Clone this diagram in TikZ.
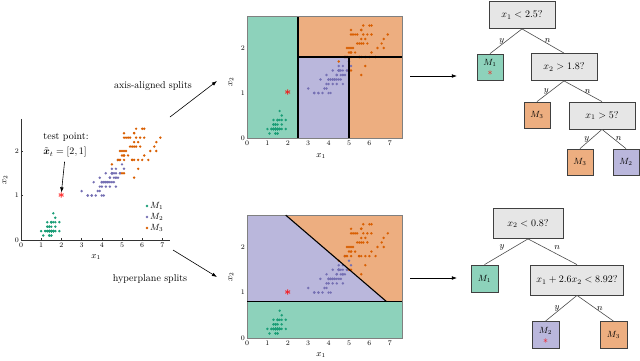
\documentclass[tikz,border=0pt]{standalone}
\usepackage{amsmath,amssymb}
\usepackage{tikz}
\usetikzlibrary{arrows.meta,positioning}

\definecolor{cgreen}{HTML}{1B9E77}
\definecolor{cpurple}{HTML}{7570B3}
\definecolor{corange}{HTML}{D95F02}
\definecolor{rgreen}{HTML}{8DD2BB}
\definecolor{rpurple}{HTML}{BAB7DC}
\definecolor{rorange}{HTML}{EDAE80}
\definecolor{testgray}{HTML}{E6E6E6}

% petal length / petal width of the three classes
\def\setosa{1.4/0.2,1.4/0.2,1.3/0.2,1.5/0.2,1.4/0.2,1.7/0.4,1.4/0.3,1.5/0.2,1.4/0.2,1.5/0.1,
1.5/0.2,1.6/0.2,1.4/0.1,1.1/0.1,1.2/0.2,1.5/0.4,1.3/0.4,1.4/0.3,1.7/0.3,1.5/0.3,
1.7/0.2,1.5/0.4,1.0/0.2,1.7/0.5,1.9/0.2,1.6/0.2,1.6/0.4,1.5/0.2,1.4/0.2,1.6/0.2,
1.6/0.2,1.5/0.4,1.5/0.1,1.4/0.2,1.5/0.2,1.2/0.2,1.3/0.2,1.4/0.1,1.3/0.2,1.5/0.2,
1.3/0.3,1.3/0.3,1.3/0.2,1.6/0.6,1.9/0.4,1.4/0.3,1.6/0.2,1.4/0.2,1.5/0.2,1.4/0.2}
\def\versicolor{4.7/1.4,4.5/1.5,4.9/1.5,4.0/1.3,4.6/1.5,4.5/1.3,4.7/1.6,3.3/1.0,4.6/1.3,3.9/1.4,
3.5/1.0,4.2/1.5,4.0/1.0,4.7/1.4,3.6/1.3,4.4/1.4,4.5/1.5,4.1/1.0,4.5/1.5,3.9/1.1,
4.8/1.8,4.0/1.3,4.9/1.5,4.7/1.2,4.3/1.3,4.4/1.4,4.8/1.4,5.0/1.7,4.5/1.5,3.5/1.0,
3.8/1.1,3.7/1.0,3.9/1.2,5.1/1.6,4.5/1.5,4.5/1.6,4.7/1.5,4.4/1.3,4.1/1.3,4.0/1.3,
4.4/1.2,4.6/1.4,4.0/1.2,3.3/1.0,4.2/1.3,4.2/1.2,4.2/1.3,4.3/1.3,3.0/1.1,4.1/1.3}
\def\virginica{6.0/2.5,5.1/1.9,5.9/2.1,5.6/1.8,5.8/2.2,6.6/2.1,4.5/1.7,6.3/1.8,5.8/1.8,6.1/2.5,
5.1/2.0,5.3/1.9,5.5/2.1,5.0/2.0,5.1/2.4,5.3/2.3,5.5/1.8,6.7/2.2,6.9/2.3,5.0/1.5,
5.7/2.3,4.9/2.0,6.7/2.0,4.9/1.8,5.7/2.1,6.0/1.8,4.8/1.8,4.9/1.8,5.6/2.1,5.8/1.6,
6.1/1.9,6.4/2.0,5.6/2.2,5.1/1.5,5.6/1.4,6.1/2.3,5.6/2.4,5.5/1.8,4.8/1.8,5.4/2.1,
5.6/2.4,5.1/2.3,5.1/1.9,5.9/2.3,5.7/2.5,5.2/2.3,5.0/1.9,5.2/2.0,5.4/2.3,5.1/1.8}

\newcommand{\irisdots}{%
  \foreach \a/\b in \setosa {\fill[cgreen] (\a,\b) circle (1.35pt);}
  \foreach \a/\b in \versicolor {\fill[cpurple] (\a,\b) circle (1.35pt);}
  \foreach \a/\b in \virginica {\fill[corange] (\a,\b) circle (1.35pt);}%
}

\begin{document}
\begin{tikzpicture}[x=1pt, y=-1pt, font=\small,
arr/.style={-{Latex[length=1.8mm,width=1.3mm]},semithick},
tick/.style={font=\fontsize{7}{8}\selectfont,inner sep=1pt},
testbox/.style={draw=black!75,fill=testgray,thick,minimum height=27pt,minimum width=66pt,inner xsep=6pt,font=\normalsize},
leaf/.style={draw=black!75,thick,minimum size=26pt,inner sep=1pt,align=center},
edge/.style={draw=black!70,semithick},
yn/.style={inner sep=1.5pt},
split/.style={line width=1.1pt},
teststar/.style={text=red,inner sep=0pt,font=\large}]
\useasboundingbox (0,0) rectangle (640,360);

% data set
\begin{scope}[shift={(21,240)}, x=20.2pt, y=44.5pt]
  \draw[black!80] (0,2.72) -- (0,0) -- (7.4,0);
  \foreach \i in {0,...,7} {
    \draw[black!80] (\i,0) -- (\i,0.04);
    \node[tick,below] at (\i,-0.03) {\i};
  }
  \foreach \j in {0,1,2} {
    \draw[black!80] (0,\j) -- (0.09,\j);
    \node[tick,left] at (-0.05,\j) {\j};
  }
  \irisdots
  \node[teststar] (tstar) at (2,1) {$\boldsymbol{\ast}$};
\end{scope}
\node (lx1) at (96,257) {$x_1$};
\node[rotate=90] (lx2) at (5,180) {$x_2$};
\node[font=\normalsize,inner sep=0.5pt] (tptext) at (66,137) {test point:};
\node[font=\normalsize,inner sep=0.5pt] (tplabel) at (65,152) {$\tilde{\boldsymbol{x}}_t=[2,1]$};
\draw[arr,shorten <=4pt] (tplabel.south) -- (tstar.north);
\fill[cgreen] (147,206) circle (1.35pt);
\fill[cpurple] (147,217) circle (1.35pt);
\fill[corange] (147,228) circle (1.35pt);
\node[right,inner sep=1pt] (lm1) at (149,206) {$M_1$};
\node[right,inner sep=1pt] (lm2) at (149,217) {$M_2$};
\node[right,inner sep=1pt] (lm3) at (149,228) {$M_3$};

% axis-aligned partition
\begin{scope}[shift={(247,138)}, x=20.4pt, y=45pt]
  \fill[rgreen] (0,0) rectangle (2.5,2.7);
  \fill[rorange] (2.5,0) rectangle (7.6,2.7);
  \fill[rpurple] (2.5,0) rectangle (5,1.8);
  \irisdots
  \draw[black!50] (0,0) rectangle (7.6,2.7);
  \draw[split] (2.5,0) -- (2.5,2.7);
  \draw[split] (2.5,1.8) -- (7.6,1.8);
  \draw[split] (5,0) -- (5,1.8);
  \foreach \i in {0,...,7} \node[tick,below] at (\i,-0.03) {\i};
  \foreach \j in {0,1,2} \node[tick,left] at (-0.05,\j) {\j};
  \node[teststar] (astar) at (2,1) {$\boldsymbol{\ast}$};
\end{scope}
\node (ax1) at (321,156) {$x_1$};
\node[rotate=90] (ax2) at (231,82) {$x_2$};

% hyperplane partition
\begin{scope}[shift={(247,338)}, x=20.4pt, y=45.5pt]
  \fill[rgreen] (0,0) rectangle (7.6,0.8);
  \fill[rpurple] (0,0.8) -- (6.84,0.8) -- (1.9,2.7) -- (0,2.7) -- cycle;
  \fill[rorange] (6.84,0.8) -- (7.6,0.8) -- (7.6,2.7) -- (1.9,2.7) -- cycle;
  \irisdots
  \draw[black!50] (0,0) rectangle (7.6,2.7);
  \draw[split] (0,0.8) -- (7.6,0.8);
  \draw[split] (6.84,0.8) -- (1.9,2.7);
  \foreach \i in {0,...,7} \node[tick,below] at (\i,-0.03) {\i};
  \foreach \j in {0,1,2} \node[tick,left] at (-0.05,\j) {\j};
  \node[teststar] (hstar) at (2,1) {$\boldsymbol{\ast}$};
\end{scope}
\node (hx1) at (321,355) {$x_1$};
\node[rotate=90] (hx2) at (231,277) {$x_2$};

% connectors between panels
\coordinate (aafrom) at (170,117);
\coordinate (aato) at (217,81);
\coordinate (hpfrom) at (173,250);
\coordinate (hpto) at (217,277);
\draw[arr] (aafrom) -- (aato);
\draw[arr] (hpfrom) -- (hpto);
\node[font=\normalsize] (aatext) at (153,86) {axis-aligned splits};
\node[font=\normalsize] (hptext) at (150,279) {hyperplane splits};
\coordinate (t1from) at (410,76);
\coordinate (t1to) at (457,76);
\coordinate (t2from) at (410,278);
\coordinate (t2to) at (457,278);
\draw[arr] (t1from) -- (t1to);
\draw[arr] (t2from) -- (t2to);

% tree for axis-aligned splits
\node[testbox] (r1) at (522,15) {$x_1<2.5?$};
\node[leaf,fill=rgreen] (r1y) at (490,67) {};
\node[inner sep=0.5pt] (r1ym) at (490,63) {$M_1$};
\node[teststar,font=\normalsize] (r1ys) at (490,73.5) {$\ast$};
\node[testbox] (r1n) at (564,67) {$x_2>1.8?$};
\node[leaf,fill=rorange] (r2y) at (537,115) {$M_3$};
\node[testbox] (r2n) at (602,115.5) {$x_1>5?$};
\node[leaf,fill=rorange] (r3y) at (580,162) {$M_3$};
\node[leaf,fill=rpurple] (r3n) at (626,162) {$M_2$};
\draw[edge] (r1.south) -- node[yn,left] {$y$} (r1y.north);
\draw[edge] (r1.south) -- node[yn,right] {$n$} (r1n.north);
\draw[edge] (r1n.south) -- node[yn,left] {$y$} (r2y.north);
\draw[edge] (r1n.south) -- node[yn,right] {$n$} (r2n.north);
\draw[edge] (r2n.south) -- node[yn,left] {$y$} (r3y.north);
\draw[edge] (r2n.south) -- node[yn,right] {$n$} (r3n.north);

% tree for hyperplane splits
\node[testbox,minimum height=30pt,minimum width=70pt] (h1) at (528,223.5) {$x_2<0.8?$};
\node[leaf,fill=rgreen,minimum size=27pt] (h1y) at (484.5,278.5) {$M_1$};
\node[testbox,minimum height=30pt] (h1n) at (577,280) {$x_1+2.6x_2<8.92?$};
\node[leaf,fill=rpurple,minimum size=27pt] (h2y) at (545.5,335) {};
\node[inner sep=0.5pt] (h2ym) at (545.5,330.5) {$M_2$};
\node[teststar,font=\normalsize] (h2ys) at (545.5,341.5) {$\ast$};
\node[leaf,fill=rorange,minimum size=27pt] (h2n) at (613.5,335) {$M_3$};
\draw[edge] (h1.south) -- node[yn,above left] {$y$} (h1y.north);
\draw[edge] (h1.south) -- node[yn,above right] {$n$} (h1n.north);
\draw[edge] (h1n.south) -- node[yn,left] {$y$} (h2y.north);
\draw[edge] (h1n.south) -- node[yn,right] {$n$} (h2n.north);
\end{tikzpicture}
\end{document}
